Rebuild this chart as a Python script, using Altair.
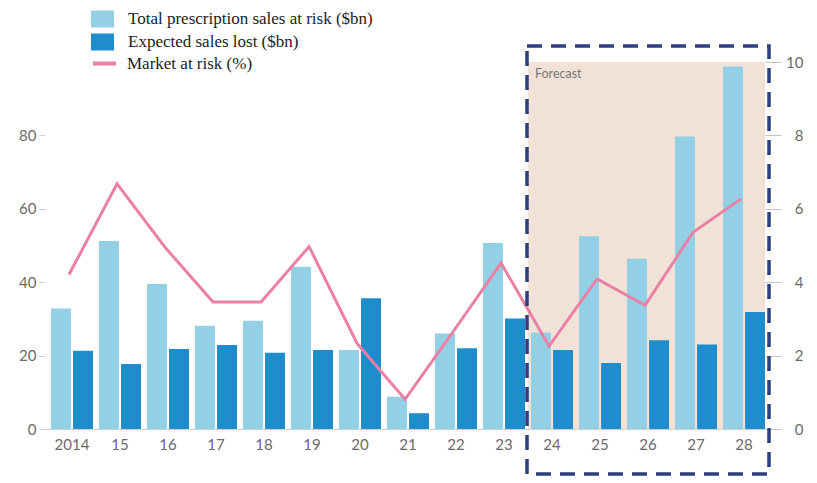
import altair as alt
import pandas as pd

# ---- data ----
years = ["2014", "15", "16", "17", "18", "19", "20", "21", "22", "23",
         "24", "25", "26", "27", "28"]
total_at_risk = [32.8, 51.2, 39.5, 28.1, 29.5, 44.2, 21.5, 8.8, 26.0, 50.7,
                 26.3, 52.5, 46.4, 79.7, 98.8]
expected_lost = [21.3, 17.7, 21.8, 22.9, 20.8, 21.5, 35.6, 4.3, 22.0, 30.1,
                 21.5, 18.0, 24.2, 23.0, 31.9]
market_at_risk = [4.21, 6.68, 4.95, 3.46, 3.46, 4.97, 2.33, 0.81, 2.65, 4.52,
                  2.26, 4.09, 3.37, 5.36, 6.27]
series_names = ["Total prescription sales at risk ($bn)",
                "Expected sales lost ($bn)",
                "Market at risk (%)"]
forecast_from = "24"
forecast_label = "Forecast"

# ---- style ----
LIGHT = "#93d0e6"
DARK = "#1f8dcb"
PINK = "#ec7fa4"
FORECAST_BG = "#f1e2d8"
NAVY = "#2c3f7e"
AXIS_TXT = "#6a6a6a"
SANS = "Lato"
SERIF = "Liberation Serif"
LEGEND_SIZE = 17
W, H = 720, 367

bars_df = pd.DataFrame({
    "year": years * 2,
    "series": [series_names[0]] * len(years) + [series_names[1]] * len(years),
    "value": total_at_risk + expected_lost,
})
line_df = pd.DataFrame({"year": years, "series": series_names[2],
                        "pct": market_at_risk})
fc_df = pd.DataFrame({"year": [forecast_from], "label": [forecast_label]})

x_scale = alt.Scale(paddingInner=0.125, paddingOuter=0.0625, align=1)
x_axis = alt.Axis(title=None, ticks=False, labelAngle=0, domainColor="#cfcfcf",
                  labelColor=AXIS_TXT, labelFont=SANS, labelFontSize=15,
                  labelPadding=8)


def make_x(**kw):
    return alt.X("year:O", sort=years, scale=x_scale, axis=x_axis, **kw)


# forecast shaded region
forecast_bg = alt.Chart(fc_df).mark_rect(color=FORECAST_BG, xOffset=-3).encode(
    x=make_x(bandPosition=0),
    x2=alt.value(W),
    y=alt.value(0),
    y2=alt.value(H),
)

bars = alt.Chart(bars_df).mark_bar().encode(
    x=make_x(),
    xOffset=alt.XOffset("series:N", sort=series_names[:2],
                        scale=alt.Scale(paddingInner=0.095, paddingOuter=0)),
    y=alt.Y("value:Q", scale=alt.Scale(domain=[0, 100]),
            axis=alt.Axis(title=None, values=[0, 20, 40, 60, 80], grid=False,
                          domain=False, tickColor="#cfcfcf", tickSize=6,
                          labelPadding=3, labelColor=AXIS_TXT, labelFont=SANS,
                          labelFontSize=15)),
    color=alt.Color("series:N", sort=series_names[:2],
                    scale=alt.Scale(domain=series_names[:2], range=[LIGHT, DARK]),
                    legend=alt.Legend(orient="none", legendX=49, legendY=-51.5,
                                      title=None,
                                      symbolType="M-1.35,-1H1.35V1H-1.35Z",
                                      symbolSize=289, symbolStrokeWidth=0,
                                      symbolOpacity=1, labelLimit=0,
                                      labelFont=SERIF, labelFontSize=LEGEND_SIZE,
                                      labelColor="#222222", labelOffset=17,
                                      rowPadding=5, padding=0)),
)

line = alt.Chart(line_df).mark_line(strokeWidth=3).encode(
    x=make_x(bandPosition=0.43),
    y=alt.Y("pct:Q", scale=alt.Scale(domain=[0, 10]),
            axis=alt.Axis(title=None, orient="right", values=[0, 2, 4, 6, 8, 10],
                          grid=False, domain=False, tickColor="#c4c4c4",
                          tickSize=16, labelAlign="right", labelPadding=22,
                          labelColor=AXIS_TXT, labelFont=SANS, labelFontSize=15)),
    color=alt.Color("series:N",
                    scale=alt.Scale(domain=[series_names[2]], range=[PINK]),
                    legend=alt.Legend(orient="none", legendX=46, legendY=-12,
                                      title=None, symbolType="stroke",
                                      symbolSize=529, symbolStrokeWidth=4,
                                      labelLimit=0,
                                      labelFont=SERIF, labelFontSize=LEGEND_SIZE,
                                      labelColor="#222222", labelOffset=9,
                                      padding=0)),
)

# dashed frame around the forecast years
forecast_box = alt.Chart(fc_df).mark_rect(
    filled=False, stroke=NAVY, strokeWidth=3.5, strokeDash=[15, 9], xOffset=-4
).encode(
    x=make_x(bandPosition=0),
    x2=alt.value(W + 4),
    y=alt.value(-16),
    y2=alt.value(H + 45),
)

forecast_text = alt.Chart(fc_df).mark_text(
    align="left", baseline="middle", dx=4, font=SANS, fontSize=12.5,
    color="#777777"
).encode(
    x=make_x(bandPosition=0),
    y=alt.value(12),
    text="label:N",
)

chart = alt.layer(
    forecast_bg, bars, line, forecast_box, forecast_text
).resolve_scale(
    y="independent", color="independent"
).properties(
    width=W, height=H,
    autosize=alt.AutoSizeParams(type="none"),
    padding={"left": 45, "top": 62, "right": 52, "bottom": 54},
    background="white",
).configure_view(stroke=None)

chart.save("out.html", embed_options={"renderer": "svg", "actions": False})
